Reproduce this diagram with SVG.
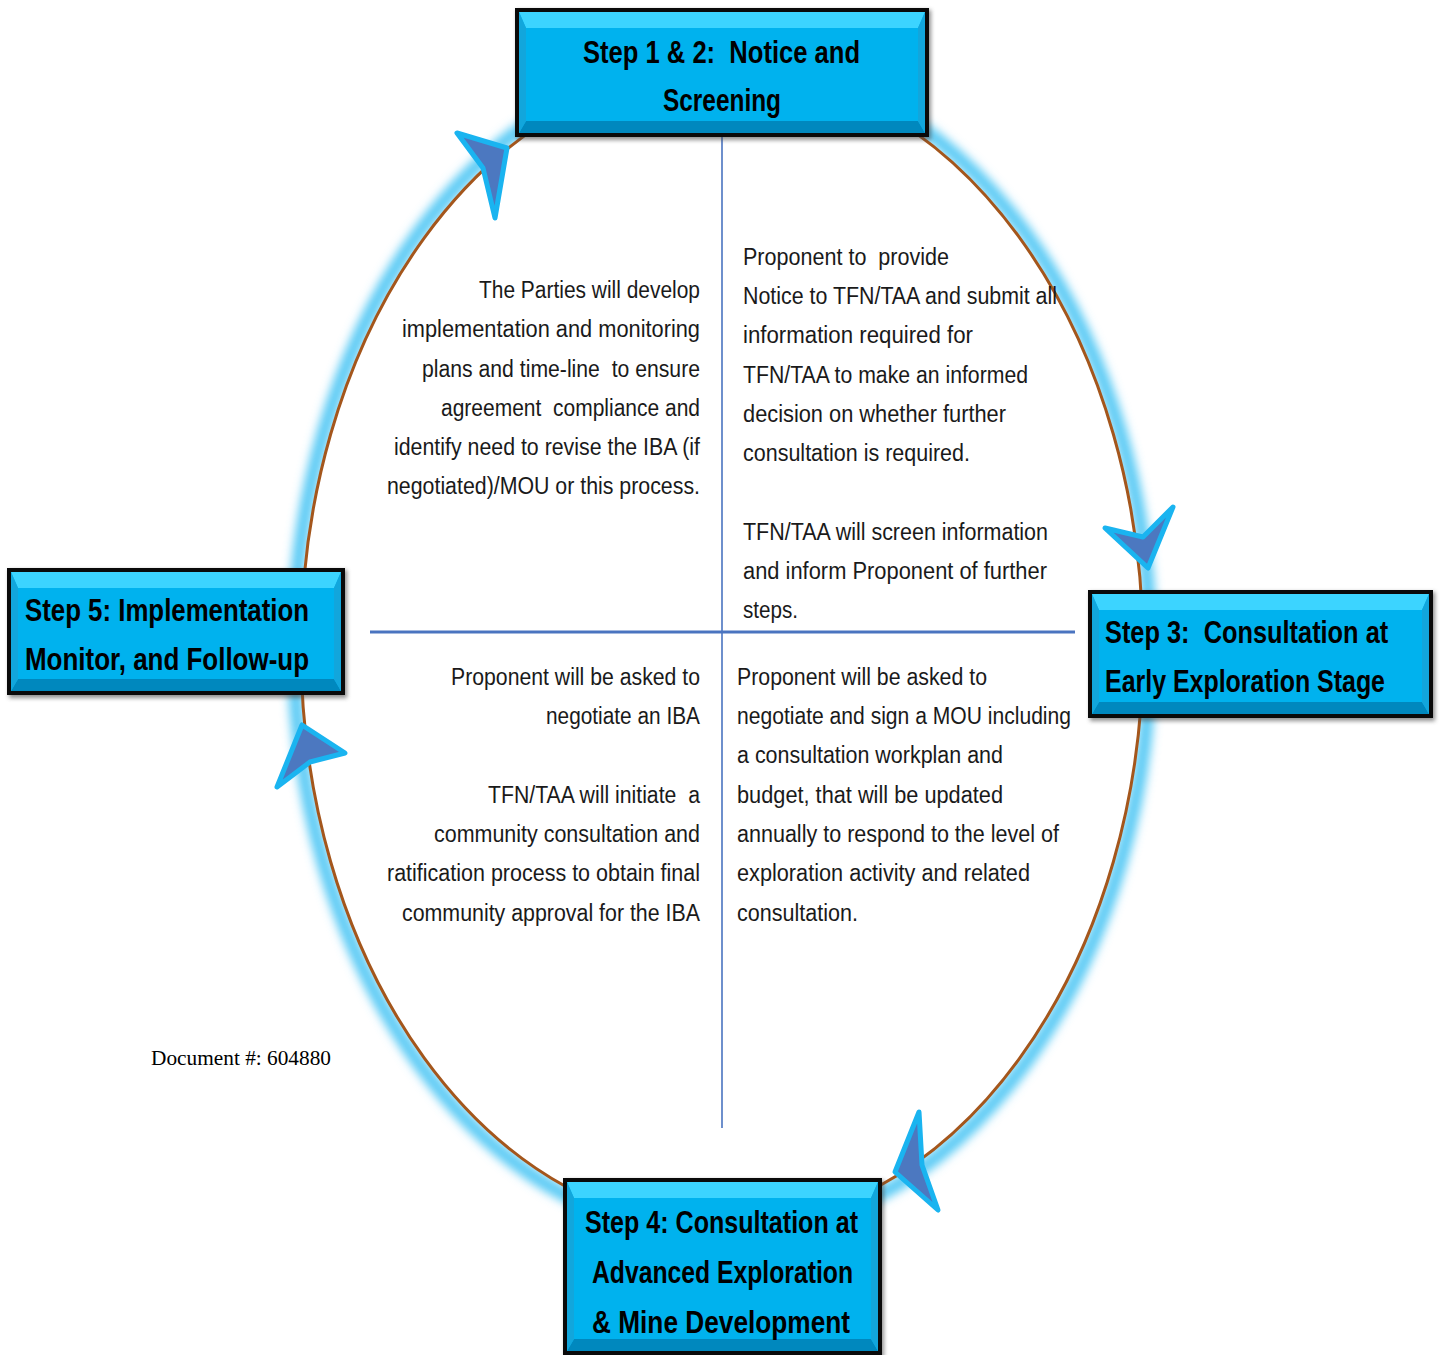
<svg xmlns="http://www.w3.org/2000/svg" width="1440" height="1355" viewBox="0 0 1440 1355">
<style>
.body{font-family:"Liberation Sans Narrow","Liberation Sans",Arial,sans-serif;font-size:23px;fill:#1a1a1a}
.title{font-family:"Liberation Sans Narrow","Liberation Sans",Arial,sans-serif;font-size:32px;font-weight:bold;fill:#000}
.doc{font-family:"Liberation Serif","Times New Roman",serif;font-size:20px;fill:#000}
.frame{fill:#0a0a0a}
.face{fill:#00B2EE}
.bevT{fill:#3CD4FF}
.bevB{fill:#0088BE}
.bevS{fill:#12A6DC}
.dart{fill:#4C78C0;stroke:#1AB4F0;stroke-width:5;stroke-linejoin:round}
</style>
<defs>
<filter id="glow" x="-20%" y="-20%" width="140%" height="140%"><feGaussianBlur stdDeviation="5"/></filter>
<filter id="shadow" x="-10%" y="-10%" width="120%" height="130%"><feGaussianBlur stdDeviation="2"/></filter>
</defs>
<rect width="1440" height="1355" fill="#fff"/>
<g id="cycle">
<ellipse cx="722" cy="648" rx="428" ry="588" fill="none" stroke="#5CCBF5" stroke-width="14" filter="url(#glow)"/>
<ellipse cx="722" cy="648" rx="421" ry="580" fill="#fff" stroke="#A4561C" stroke-width="3"/>
</g>
<g id="connectors">
<line x1="722" y1="137" x2="722" y2="1128" stroke="#4A74C0" stroke-width="1.6"/>
<line x1="370" y1="632" x2="1075" y2="632" stroke="#4A74C0" stroke-width="3"/>
<polygon class="dart" points="457,133 507,148 495,218 483,168"/>
<polygon class="dart" points="1105,528 1148,568 1173,507 1143,537"/>
<polygon class="dart" points="919,1112 895,1172 938,1210 922,1165"/>
<polygon class="dart" points="302,725 277,787 310,762 345,753"/>
</g>
<g id="text-upper-left">
<text class="body" x="479" y="298" textLength="221" lengthAdjust="spacingAndGlyphs">The Parties will develop</text>
<text class="body" x="402" y="337" textLength="298" lengthAdjust="spacingAndGlyphs">implementation and monitoring</text>
<text class="body" x="422" y="377" textLength="278" lengthAdjust="spacingAndGlyphs" xml:space="preserve">plans and time-line  to ensure</text>
<text class="body" x="441" y="416" textLength="259" lengthAdjust="spacingAndGlyphs" xml:space="preserve">agreement  compliance and</text>
<text class="body" x="394" y="455" textLength="306" lengthAdjust="spacingAndGlyphs">identify need to revise the IBA (if</text>
<text class="body" x="387" y="494" textLength="313" lengthAdjust="spacingAndGlyphs">negotiated)/MOU or this process.</text>
</g>
<g id="text-upper-right">
<text class="body" x="743" y="265" textLength="206" lengthAdjust="spacingAndGlyphs" xml:space="preserve">Proponent to  provide</text>
<text class="body" x="743" y="304" textLength="314" lengthAdjust="spacingAndGlyphs">Notice to TFN/TAA and submit all</text>
<text class="body" x="743" y="343" textLength="230" lengthAdjust="spacingAndGlyphs">information required for</text>
<text class="body" x="743" y="383" textLength="285" lengthAdjust="spacingAndGlyphs">TFN/TAA to make an informed</text>
<text class="body" x="743" y="422" textLength="263" lengthAdjust="spacingAndGlyphs">decision on whether further</text>
<text class="body" x="743" y="461" textLength="227" lengthAdjust="spacingAndGlyphs">consultation is required.</text>
<text class="body" x="743" y="540" textLength="305" lengthAdjust="spacingAndGlyphs">TFN/TAA will screen information</text>
<text class="body" x="743" y="579" textLength="304" lengthAdjust="spacingAndGlyphs">and inform Proponent of further</text>
<text class="body" x="743" y="618" textLength="55" lengthAdjust="spacingAndGlyphs">steps.</text>
</g>
<g id="text-lower-left">
<text class="body" x="451" y="685" textLength="249" lengthAdjust="spacingAndGlyphs">Proponent will be asked to</text>
<text class="body" x="546" y="724" textLength="154" lengthAdjust="spacingAndGlyphs">negotiate an IBA</text>
<text class="body" x="488" y="803" textLength="212" lengthAdjust="spacingAndGlyphs" xml:space="preserve">TFN/TAA will initiate  a</text>
<text class="body" x="434" y="842" textLength="266" lengthAdjust="spacingAndGlyphs">community consultation and</text>
<text class="body" x="387" y="881" textLength="313" lengthAdjust="spacingAndGlyphs">ratification process to obtain final</text>
<text class="body" x="402" y="921" textLength="298" lengthAdjust="spacingAndGlyphs">community approval for the IBA</text>
</g>
<g id="text-lower-right">
<text class="body" x="737" y="685" textLength="250" lengthAdjust="spacingAndGlyphs">Proponent will be asked to</text>
<text class="body" x="737" y="724" textLength="334" lengthAdjust="spacingAndGlyphs">negotiate and sign a MOU including</text>
<text class="body" x="737" y="763" textLength="266" lengthAdjust="spacingAndGlyphs">a consultation workplan and</text>
<text class="body" x="737" y="803" textLength="266" lengthAdjust="spacingAndGlyphs">budget, that will be updated</text>
<text class="body" x="737" y="842" textLength="322" lengthAdjust="spacingAndGlyphs">annually to respond to the level of</text>
<text class="body" x="737" y="881" textLength="293" lengthAdjust="spacingAndGlyphs">exploration activity and related</text>
<text class="body" x="737" y="921" textLength="121" lengthAdjust="spacingAndGlyphs">consultation.</text>
</g>
<g id="doc-number">
<text class="doc" x="151" y="1065" textLength="180" lengthAdjust="spacingAndGlyphs">Document #: 604880</text>
</g>
<g id="step1-2">
<rect x="517" y="10" width="414" height="130" fill="#444" opacity="0.6" filter="url(#shadow)"/>
<rect class="frame" x="515" y="8" width="414" height="129"/>
<rect class="face" x="519" y="12" width="406" height="121"/>
<polygon class="bevT" points="519,12 925,12 918,28 526,28"/>
<polygon class="bevB" points="519,133 925,133 918,121 526,121"/>
<polygon class="bevS" points="519,12 526,28 526,121 519,133"/>
<polygon class="bevS" points="925,12 918,28 918,121 925,133"/>
<text class="title" x="583" y="63" textLength="277" lengthAdjust="spacingAndGlyphs" xml:space="preserve">Step 1 &amp; 2:  Notice and</text>
<text class="title" x="663" y="111" textLength="118" lengthAdjust="spacingAndGlyphs">Screening</text>
</g>
<g id="step3">
<rect x="1090" y="592" width="345" height="129" fill="#444" opacity="0.6" filter="url(#shadow)"/>
<rect class="frame" x="1088" y="590" width="345" height="128"/>
<rect class="face" x="1092" y="594" width="337" height="120"/>
<polygon class="bevT" points="1092,594 1429,594 1422,610 1099,610"/>
<polygon class="bevB" points="1092,714 1429,714 1422,702 1099,702"/>
<polygon class="bevS" points="1092,594 1099,610 1099,702 1092,714"/>
<polygon class="bevS" points="1429,594 1422,610 1422,702 1429,714"/>
<text class="title" transform="translate(1105,643) scale(0.8,1)" x="0" y="0" textLength="354" lengthAdjust="spacingAndGlyphs" xml:space="preserve">Step 3:  Consultation at</text>
<text class="title" transform="translate(1105,692) scale(0.8,1)" x="0" y="0" textLength="350" lengthAdjust="spacingAndGlyphs">Early Exploration Stage</text>
</g>
<g id="step5">
<rect x="9" y="570" width="338" height="128" fill="#444" opacity="0.6" filter="url(#shadow)"/>
<rect class="frame" x="7" y="568" width="338" height="127"/>
<rect class="face" x="11" y="572" width="330" height="119"/>
<polygon class="bevT" points="11,572 341,572 334,588 18,588"/>
<polygon class="bevB" points="11,691 341,691 334,679 18,679"/>
<polygon class="bevS" points="11,572 18,588 18,679 11,691"/>
<polygon class="bevS" points="341,572 334,588 334,679 341,691"/>
<text class="title" x="25" y="621" textLength="284" lengthAdjust="spacingAndGlyphs">Step 5: Implementation</text>
<text class="title" x="25" y="670" textLength="284" lengthAdjust="spacingAndGlyphs">Monitor, and Follow-up</text>
</g>
<g id="step4">
<rect x="565" y="1180" width="319" height="178" fill="#444" opacity="0.6" filter="url(#shadow)"/>
<rect class="frame" x="563" y="1178" width="319" height="177"/>
<rect class="face" x="567" y="1182" width="311" height="169"/>
<polygon class="bevT" points="567,1182 878,1182 871,1198 574,1198"/>
<polygon class="bevB" points="567,1351 878,1351 871,1339 574,1339"/>
<polygon class="bevS" points="567,1182 574,1198 574,1339 567,1351"/>
<polygon class="bevS" points="878,1182 871,1198 871,1339 878,1351"/>
<text class="title" x="585" y="1233" textLength="273" lengthAdjust="spacingAndGlyphs">Step 4: Consultation at</text>
<text class="title" x="592" y="1283" textLength="261" lengthAdjust="spacingAndGlyphs">Advanced Exploration</text>
<text class="title" x="592" y="1333" textLength="258" lengthAdjust="spacingAndGlyphs">&amp; Mine Development</text>
</g>
</svg>
